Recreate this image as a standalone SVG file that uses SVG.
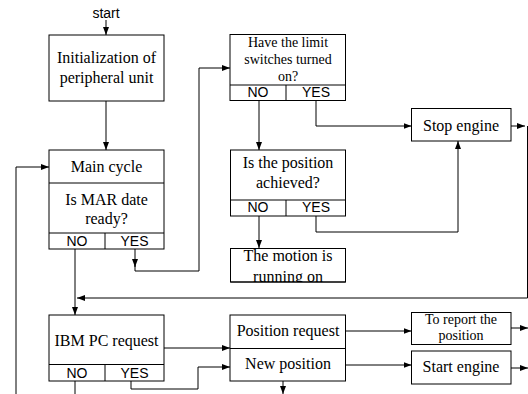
<svg xmlns="http://www.w3.org/2000/svg" width="528" height="394" viewBox="0 0 528 394">
<style>
.box{fill:#fff;stroke:#000;stroke-width:1}
.ln{fill:none;stroke:#000;stroke-width:1}
.ar{fill:none;stroke:#000;stroke-width:1;marker-end:url(#ah)}
.t{font-family:"Liberation Serif","Times New Roman",serif;font-size:16px;fill:#000;text-anchor:middle}
.s{font-family:"Liberation Serif","Times New Roman",serif;font-size:14px;fill:#000;text-anchor:middle}
.y{font-family:"Liberation Sans",Arial,sans-serif;font-size:14px;fill:#000;text-anchor:middle}
</style>
<defs>
<marker id="ah" markerUnits="userSpaceOnUse" markerWidth="9" markerHeight="7" refX="8" refY="3" orient="auto">
<path d="M0,0 L8,3 L0,6 z" fill="#000"/>
</marker>
<clipPath id="mc"><rect x="230" y="248" width="116" height="34"/></clipPath>
</defs>
<rect width="528" height="394" fill="#fff"/>

<g id="connectors">
<path class="ar" d="M106,20 V35"/>
<path class="ar" d="M106,101 V150"/>
<path class="ar" d="M135,249 V267"/>
<path class="ar" d="M135,265 V271 H199 V68 H230"/>
<path class="ar" d="M259,101 V150"/>
<path class="ar" d="M316,101 V126 H411.5"/>
<path class="ar" d="M259,216 V248"/>
<path class="ar" d="M316,216 V232 H458 V141"/>
<path class="ar" d="M511,126 H525"/>
<path class="ar" d="M527.5,126 V298 H77"/>
<path class="ar" d="M75,249 V315"/>
<path class="ar" d="M16,394 V167 H49"/>
<path class="ln" d="M75,381 V394"/>
<path class="ar" d="M164,348 H230"/>
<path class="ar" d="M131,381 V389 H198 V367 H230"/>
<path class="ar" d="M283,381 V394"/>
<path class="ar" d="M346,331 H411.5"/>
<path class="ar" d="M346,365 H411.5"/>
<path class="ar" d="M511,328 H528"/>
<path class="ar" d="M511,368 H528"/>
</g>

<g id="start">
<text class="y" x="106" y="18" font-size="13">start</text>
</g>

<g id="init">
<rect class="box" x="49" y="35" width="115" height="66"/>
<text class="t" x="106.5" y="63">Initialization of</text>
<text class="t" x="106.5" y="83">peripheral unit</text>
</g>

<g id="main">
<rect class="box" x="49" y="150" width="115" height="99"/>
<line class="ln" x1="49" y1="183" x2="164" y2="183"/>
<line class="ln" x1="49" y1="233" x2="164" y2="233"/>
<line class="ln" x1="105" y1="233" x2="105" y2="249"/>
<text class="t" x="106.5" y="172">Main cycle</text>
<text class="t" x="106.5" y="205">Is MAR date</text>
<text class="t" x="106.5" y="224">ready?</text>
<text class="y" x="77" y="246">NO</text>
<text class="y" x="134.5" y="246">YES</text>
</g>

<g id="limit">
<rect class="box" x="230" y="34.5" width="115.5" height="66"/>
<line class="ln" x1="230" y1="85" x2="345.5" y2="85"/>
<line class="ln" x1="286" y1="85" x2="286" y2="100.5"/>
<text class="s" x="288" y="47">Have the limit</text>
<text class="s" x="288" y="64">switches turned</text>
<text class="s" x="288" y="81">on?</text>
<text class="y" x="258" y="97">NO</text>
<text class="y" x="316" y="97">YES</text>
</g>

<g id="stop">
<rect class="box" x="411.5" y="108.5" width="99.5" height="32.5"/>
<text class="t" x="461" y="131">Stop engine</text>
</g>

<g id="position">
<rect class="box" x="230.5" y="150" width="115" height="66"/>
<line class="ln" x1="230.5" y1="200" x2="345.5" y2="200"/>
<line class="ln" x1="286" y1="200" x2="286" y2="216"/>
<text class="t" x="288" y="168">Is the position</text>
<text class="t" x="288" y="188">achieved?</text>
<text class="y" x="258" y="212">NO</text>
<text class="y" x="316" y="212">YES</text>
</g>

<g id="motion">
<rect class="box" x="230.5" y="248.5" width="115" height="33.5"/>
<g clip-path="url(#mc)">
<text class="t" x="288" y="261">The motion is</text>
<text class="t" x="288" y="282">running on</text>
</g>
<line class="ln" x1="230.5" y1="282" x2="345.5" y2="282"/>
</g>

<g id="ibm">
<rect class="box" x="49" y="315" width="115" height="66"/>
<line class="ln" x1="49" y1="364.5" x2="164" y2="364.5"/>
<line class="ln" x1="105" y1="364.5" x2="105" y2="381"/>
<text class="t" x="106.5" y="346">IBM PC request</text>
<text class="y" x="77" y="378">NO</text>
<text class="y" x="134.5" y="378">YES</text>
</g>

<g id="request">
<rect class="box" x="230" y="315" width="115.5" height="66"/>
<line class="ln" x1="230" y1="348.5" x2="345.5" y2="348.5"/>
<text class="t" x="288" y="336">Position request</text>
<text class="t" x="288" y="369">New position</text>
</g>

<g id="report">
<rect class="box" x="411.5" y="312.5" width="99.5" height="32"/>
<text class="s" x="461" y="324">To report the</text>
<text class="s" x="461" y="340">position</text>
</g>

<g id="startengine">
<rect class="box" x="411.5" y="351" width="99.5" height="33"/>
<text class="t" x="461" y="372">Start engine</text>
</g>
</svg>
